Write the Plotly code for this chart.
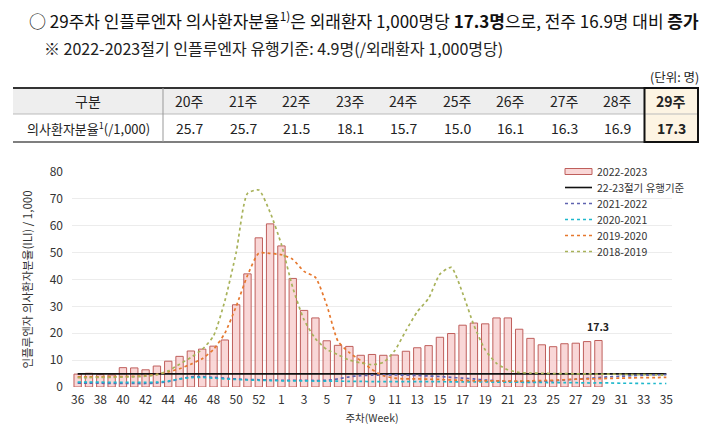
import plotly.graph_objects as go

# ---------------- data ----------------
weeks = [str(w) for w in range(36, 54)] + [str(w) for w in range(1, 36)]

ili_2223 = [4.8, 5.1, 4.6, 4.5, 7.2, 7.1, 6.4, 7.8, 9.6, 11.4, 13.4, 14.1, 15.2, 17.5,
            30.6, 42.1, 55.5, 60.7, 52.5, 40.4, 28.5, 25.7, 17.2, 15.5, 15.1, 11.8,
            12.1, 11.8, 11.9, 13.3, 14.6, 15.4, 18.5, 19.9, 23.0, 23.8, 23.5, 25.7,
            25.7, 21.5, 18.1, 15.7, 15.0, 16.1, 16.3, 16.9, 17.3]
weeks_2223 = weeks[:len(ili_2223)]

threshold_2223 = 4.9

ili_2122 = [1.4, 1.4, 1.4, 1.3, 1.3, 1.3, 1.3, 1.5, 2.0, 3.0, 3.8, 3.9, 3.6, 3.3,
            3.0, 2.8, 2.7, 2.6, 2.5, 2.5, 2.5, 2.4, 2.5, 3.0, 3.8, 4.2, 4.4, 4.5,
            4.5, 4.4, 4.3, 4.1, 3.9, 3.6, 3.3, 3.0, 2.6, 2.3, 2.1, 2.0, 2.0, 2.1,
            2.3, 2.6, 2.9, 3.2, 3.5, 3.8, 4.0, 4.2, 4.4, 4.5, 4.6]

ili_2021 = [1.8, 1.8, 1.8, 1.7, 1.7, 1.7, 1.7, 1.8, 2.2, 3.0, 3.5, 3.6, 3.3, 3.0,
            2.8, 2.6, 2.5, 2.4, 2.3, 2.3, 2.3, 2.2, 2.2, 2.2, 2.1, 2.1, 2.0, 2.0,
            2.0, 2.0, 2.0, 2.0, 2.0, 1.9, 1.9, 1.9, 1.9, 1.8, 1.8, 1.8, 1.7, 1.7,
            1.6, 1.6, 1.6, 1.5, 1.5, 1.5, 1.4, 1.4, 1.3, 1.3, 1.3]

ili_1920 = [3.8, 3.8, 3.8, 3.9, 3.9, 4.0, 4.2, 4.7, 5.6, 6.8, 8.5, 10.5, 14.0, 20.0,
            30.0, 41.5, 49.8, 49.7, 49.2, 47.5, 43.0, 40.8, 30.5, 17.0, 12.8, 9.8,
            6.5, 4.2, 3.3, 3.0, 3.0, 2.9, 2.8, 2.6, 2.5, 2.3, 2.3, 2.3, 2.2, 2.2,
            2.3, 2.4, 2.5, 2.7, 2.9, 3.0, 3.1, 3.2, 3.3, 3.4, 3.5, 3.5, 3.6]

ili_1819 = [3.5, 3.5, 3.6, 3.6, 3.7, 3.8, 4.0, 4.6, 6.0, 8.5, 11.0, 14.0, 19.0, 32.0,
            50.0, 72.0, 73.3, 65.0, 53.0, 37.0, 25.0, 18.0, 14.0, 12.0, 10.0, 9.0,
            8.3, 9.2, 13.5, 21.0, 28.0, 33.0, 42.0, 44.5, 35.0, 23.0, 13.8, 8.8,
            6.4, 5.4, 5.2, 5.1, 5.0, 5.0, 4.9, 4.9, 4.8, 4.8, 4.7, 4.6, 4.6, 4.5, 4.4]

tick_weeks = weeks[::2]

table_weeks = ["20주", "21주", "22주", "23주", "24주", "25주", "26주", "27주", "28주", "29주"]
table_vals = [25.7, 25.7, 21.5, 18.1, 15.7, 15.0, 16.1, 16.3, 16.9, 17.3]

header1 = "○ 29주차 인플루엔자 의사환자분율<sup>1)</sup>은 외래환자 1,000명당 <b>17.3명</b>으로, 전주 16.9명 대비 <b>증가</b>"
header2 = "※ 2022-2023절기 인플루엔자 유행기준: 4.9명(/외래환자 1,000명당)"
unit_text = "(단위: 명)"
row_head = "구분"
row_label = "의사환자분율<sup>1</sup>(/1,000)"

# ---------------- layout geometry ----------------
# page body adds an 8px offset; coordinates below are in window pixels
OFF = 8
W, H = 711, 419
ML, MR, MT, MB = 64, 47, 164, 40
PW, PH = W - ML - MR, H - MT - MB


def px(x):
    return (x - OFF - ML) / PW


def py(y):
    return (H - MB - (y - OFF)) / PH


FONT = "Noto Sans CJK KR"
COL_BAR_FILL = "rgba(247,205,205,0.8)"
COL_BAR_LINE = "#bf5f5c"

fig = go.Figure()

fig.add_trace(go.Bar(
    x=weeks_2223, y=ili_2223, name="2022-2023",
    marker=dict(color=COL_BAR_FILL, line=dict(color=COL_BAR_LINE, width=1)),
))
fig.add_trace(go.Scatter(
    x=weeks, y=[threshold_2223] * len(weeks), name="22-23절기 유행기준",
    mode="lines", line=dict(color="#111111", width=1.6),
))
line_specs = [
    ("2021-2022", ili_2122, "#5f63b0"),
    ("2020-2021", ili_2021, "#1fb8cc"),
    ("2019-2020", ili_1920, "#e6782e"),
    ("2018-2019", ili_1819, "#a8b25a"),
]
for name, vals, col in line_specs:
    fig.add_trace(go.Scatter(
        x=weeks, y=vals, name=name, mode="lines",
        line=dict(color=col, width=1.7, dash="dot", shape="spline", smoothing=0.6),
    ))

annotations = []
shapes = []
# data label for last bar
annotations.append(dict(
    x=len(ili_2223) - 1, y=ili_2223[-1], xref="x", yref="y", text="<b>17.3</b>",
    showarrow=False, xanchor="center", yanchor="bottom", yshift=5,
    font=dict(size=10.5, color="#222", family=FONT),
))


def txt(x, y, text, size, xanchor="center", color="#222"):
    annotations.append(dict(x=px(x), y=py(y), xref="paper", yref="paper", text=text,
                            showarrow=False, xanchor=xanchor, yanchor="middle",
                            font=dict(size=size, color=color, family=FONT)))


# header texts
txt(27, 20, header1, 17, "left", "#111")
txt(42, 48, header2, 16, "left")
txt(701, 76, unit_text, 12.5, "right")

# table
T_L, T_R, T_SEP = 13, 698, 163
R0, R1, R2 = 88, 114, 142
col_w = (T_R - T_SEP) / len(table_weeks)


def hline(y, color, width, x0=T_L, x1=T_R):
    shapes.append(dict(type="line", xref="paper", yref="paper", x0=px(x0), x1=px(x1),
                       y0=py(y), y1=py(y), line=dict(color=color, width=width)))


shapes.append(dict(type="rect", xref="paper", yref="paper", x0=px(T_L), x1=px(T_R),
                   y0=py(R1), y1=py(R0), fillcolor="#eeeeee", line=dict(width=0), layer="below"))
hx0 = T_SEP + col_w * 9
shapes.append(dict(type="rect", xref="paper", yref="paper", x0=px(hx0), x1=px(T_R),
                   y0=py(R2), y1=py(R0), fillcolor="#fdf4e3", line=dict(width=0), layer="below"))
hline(R0, "#333", 2)
hline(R1, "#bbbbbb", 1)
hline(R2, "#555", 1.5)
shapes.append(dict(type="line", xref="paper", yref="paper", x0=px(T_SEP), x1=px(T_SEP),
                   y0=py(R2), y1=py(R0), line=dict(color="#999", width=1)))
shapes.append(dict(type="rect", xref="paper", yref="paper", x0=px(hx0), x1=px(T_R),
                   y0=py(R2), y1=py(R0), line=dict(color="#111", width=2)))

txt((T_L + T_SEP) / 2, (R0 + R1) / 2, row_head, 14)
txt((T_L + T_SEP) / 2, (R1 + R2) / 2, row_label, 13)
for i, (wk, v) in enumerate(zip(table_weeks, table_vals)):
    cx = T_SEP + col_w * (i + 0.5)
    last = i == len(table_weeks) - 1
    t1 = f"<b>{wk}</b>" if last else wk
    t2 = f"<b>{v:.1f}</b>" if last else f"{v:.1f}"
    txt(cx, (R0 + R1) / 2, t1, 14)
    txt(cx, (R1 + R2) / 2, t2, 14)

# legend (drawn manually for compact spacing)
LG_X0, LG_X1, LG_TX = 565, 592, 595
LG_Y0, LG_DY = 171.5, 16
legend_items = [("2022-2023", "bar", None), ("22-23절기 유행기준", "solid", "#111111")] + \
               [(n, "dot", c) for n, _, c in line_specs]
for k, (name, kind, col) in enumerate(legend_items):
    yy = LG_Y0 + k * LG_DY
    if kind == "bar":
        shapes.append(dict(type="rect", xref="paper", yref="paper", x0=px(LG_X0), x1=px(LG_X1),
                           y0=py(yy + 3), y1=py(yy - 3), fillcolor=COL_BAR_FILL,
                           line=dict(color=COL_BAR_LINE, width=1)))
    else:
        shapes.append(dict(type="line", xref="paper", yref="paper", x0=px(LG_X0), x1=px(LG_X1),
                           y0=py(yy), y1=py(yy),
                           line=dict(color=col, width=1.6 if kind == "solid" else 1.5,
                                     dash=None if kind == "solid" else "dot")))
    txt(LG_TX, yy, name, 10.5, "left", "#333")

fig.update_layout(
    width=W, height=H,
    margin=dict(l=ML, r=MR, t=MT, b=MB, autoexpand=False),
    paper_bgcolor="white", plot_bgcolor="white",
    font=dict(family=FONT, size=12, color="#333"),
    bargap=0.35,
    showlegend=False,
    annotations=annotations,
    shapes=shapes,
)
fig.update_xaxes(type="category", categoryorder="array", categoryarray=weeks,
                 tickmode="array", tickvals=tick_weeks, ticktext=tick_weeks,
                 showgrid=False, showline=False, ticks="", tickfont=dict(size=12, color="#333"),
                 ticklabelstandoff=4,
                 title=dict(text="주차(Week)", font=dict(size=10.5, color="#333"), standoff=8),
                 range=[-0.5, len(weeks) - 0.5])
fig.update_yaxes(range=[0, 80], dtick=10, showgrid=True, gridcolor="#ececec", gridwidth=1,
                 zeroline=False, showline=False, ticks="", tickfont=dict(size=12, color="#333"),
                 ticklabelstandoff=8,
                 title=dict(text="인플루엔자 의사환자분율(ILI) / 1,000", font=dict(size=11.5, color="#333"),
                            standoff=14))

fig.write_html("out.html")
